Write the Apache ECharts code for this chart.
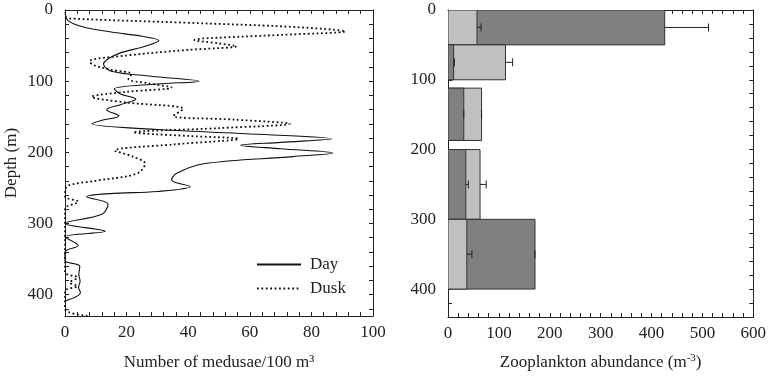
<!DOCTYPE html>
<html>
<head>
<meta charset="utf-8">
<script src="https://cdn.jsdelivr.net/npm/echarts@6/dist/echarts.min.js"></script>
<style>
  html, body { margin: 0; background: #fff; }
  #chart { width: 769px; height: 376px; }
</style>
</head>
<body>
<div id="chart"></div>
<script>
// medusae profiles, [number per 100 m3, depth (m)]
const dayProfile = [
  [0, 3], [1, 15], [6, 24], [15, 31], [25, 37], [30.5, 43], [26, 51], [17, 62], [12.5, 76],
  [15, 86], [28, 93], [43.5, 100], [30, 104], [16, 111], [18, 118], [23, 125], [18, 133],
  [13.5, 140], [17.5, 149], [12, 155], [8.7, 160], [30, 168], [65, 175], [86.6, 181],
  [70, 186], [57, 190], [70, 195], [87, 201], [74, 206], [45, 216], [36, 230], [34.6, 239],
  [40.6, 248], [30, 255], [14.6, 258], [7, 262.5], [14, 273], [12, 287], [0, 300], [13, 311],
  [0, 319], [4.3, 331], [0, 340], [0, 352], [4.8, 360], [4.5, 372], [4.9, 381], [4.4, 390],
  [5, 397], [0, 409]
];
const duskProfile = [
  [0, 10], [2, 12], [40, 18], [75, 24], [91, 30], [70, 35], [45, 40], [42, 42], [50, 47],
  [55.7, 51], [40, 56], [20, 64], [8, 72], [9, 77], [15, 84], [21.6, 90], [20.6, 97],
  [27, 103], [34.6, 109], [20, 115], [8.7, 122], [20, 130], [38.4, 139], [35.2, 148.7],
  [55, 154], [73, 160], [50, 166], [22.2, 172], [40, 177], [56.3, 181], [35, 189],
  [16.2, 197.5], [22, 206], [26, 216], [23.3, 230], [10, 240], [0.5, 248.5], [0, 262],
  [4.3, 269.5], [0, 280], [0, 368], [4, 376], [1.5, 383], [4, 388], [0, 395], [0, 420],
  [7.6, 430]
];

// zooplankton depth bins (m) and abundances (m-3)
const binTop = [0, 50, 112, 200, 300];
const binBottom = [50, 100, 187, 300, 400];
const darkBars = [426, 11, 31, 35, 171];
const darkErr = [86, 1.5, 0, 5, 0];
const lightBars = [57, 113, 66, 63, 37];
const lightErr = [8, 14, 0, 12, 10];

const FONT = 'Liberation Serif';
const INK = '#222';

const chart = echarts.init(document.getElementById('chart'), null, { renderer: 'canvas' });

function tickAxis(extra) {
  return Object.assign({
    type: 'value',
    axisLine: { show: true, onZero: false, lineStyle: { color: INK, width: 1 } },
    axisTick: { show: true, inside: true, length: 4, lineStyle: { color: INK } },
    splitLine: { show: false },
    axisLabel: { show: false }
  }, extra);
}

function renderBin(params, api) {
  const top = api.value(0), bottom = api.value(1);
  const bars = [
    { v: api.value(2), e: api.value(3), fill: '#808080' },
    { v: api.value(4), e: api.value(5), fill: '#c0c0c0' }
  ].sort((a, b) => b.v - a.v);
  const children = [];
  bars.forEach(b => {
    const p0 = api.coord([0, top]);
    const p1 = api.coord([b.v, bottom]);
    children.push({
      type: 'rect',
      shape: { x: p0[0], y: p0[1], width: p1[0] - p0[0], height: p1[1] - p0[1] },
      style: { fill: b.fill, stroke: '#333', lineWidth: 1 }
    });
  });
  const mid = (top + bottom) / 2;
  bars.forEach(b => {
    const a = api.coord([b.v, mid]);
    const c = api.coord([b.v + b.e, mid]);
    children.push({ type: 'line', shape: { x1: a[0], y1: a[1], x2: c[0], y2: c[1] },
      style: { stroke: '#222', lineWidth: 1 } });
    children.push({ type: 'line', shape: { x1: c[0], y1: c[1] - 4, x2: c[0], y2: c[1] + 4 },
      style: { stroke: '#222', lineWidth: 1 } });
  });
  return { type: 'group', children: children };
}

const binData = binTop.map((t, i) => [t, binBottom[i], darkBars[i], darkErr[i], lightBars[i], lightErr[i]]);

chart.setOption({
  animation: false,
  textStyle: { fontFamily: FONT, color: INK },
  grid: [
    { left: 65, right: 396, top: 10, bottom: 57.5 },
    { left: 448, right: 13, top: 10, bottom: 59 }
  ],
  legend: {
    orient: 'vertical',
    left: 251,
    top: 251,
    itemWidth: 44,
    itemHeight: 10,
    itemGap: 7,
    data: ['Day', 'Dusk'],
    itemStyle: { opacity: 0 },
    textStyle: { fontFamily: FONT, fontSize: 17, color: INK, padding: [0, 0, 0, 4] }
  },
  xAxis: [
    tickAxis({
      gridIndex: 0, position: 'bottom', min: 0, max: 100, interval: 4,
      axisLabel: { show: true, fontFamily: FONT, fontSize: 17, color: INK, margin: 8,
        formatter: v => (v % 20 === 0 ? String(v) : '') },
      name: 'Number of medusae/100 m³', nameLocation: 'middle', nameGap: 38,
      nameTextStyle: { fontFamily: FONT, fontSize: 17, color: INK }
    }),
    tickAxis({ gridIndex: 0, position: 'top', min: 0, max: 100, interval: 4 }),
    tickAxis({
      gridIndex: 1, position: 'bottom', min: 0, max: 600, interval: 20,
      axisLabel: { show: true, fontFamily: FONT, fontSize: 17, color: INK, margin: 8,
        formatter: v => (v % 100 === 0 ? String(v) : '') },
      name: 'Zooplankton abundance (m{sup|-3})', nameLocation: 'middle', nameGap: 36,
      nameTextStyle: { fontFamily: FONT, fontSize: 17, color: INK,
        rich: { sup: { fontFamily: FONT, fontSize: 11, color: INK, verticalAlign: 'top', padding: [0, 0, 8, 0] } } }
    }),
    tickAxis({ gridIndex: 1, position: 'top', min: 0, max: 600, interval: 20 })
  ],
  yAxis: [
    tickAxis({
      gridIndex: 0, position: 'left', inverse: true, min: 0, max: 430, interval: 20,
      axisLabel: { show: true, fontFamily: FONT, fontSize: 17, color: INK, margin: 12,
        formatter: v => (v % 100 === 0 ? String(v) : '') },
      name: 'Depth (m)', nameLocation: 'middle', nameGap: 45, nameRotate: 90,
      nameTextStyle: { fontFamily: FONT, fontSize: 17, color: INK }
    }),
    tickAxis({ gridIndex: 0, position: 'right', inverse: true, min: 0, max: 430, interval: 20 }),
    tickAxis({
      gridIndex: 1, position: 'left', inverse: true, min: 0, max: 440, interval: 20,
      axisLabel: { show: true, fontFamily: FONT, fontSize: 17, color: INK, margin: 12,
        formatter: v => (v % 100 === 0 ? String(v) : '') }
    }),
    tickAxis({ gridIndex: 1, position: 'right', inverse: true, min: 0, max: 440, interval: 20 })
  ],
  series: [
    {
      name: 'Day', type: 'line', xAxisIndex: 0, yAxisIndex: 0,
      data: dayProfile, smooth: 0.35, symbol: 'none', clip: true,
      lineStyle: { color: '#111', width: 1.1, type: 'solid' },
      itemStyle: { color: '#111' }
    },
    {
      name: 'Dusk', type: 'line', xAxisIndex: 0, yAxisIndex: 0,
      data: duskProfile, smooth: 0.35, symbol: 'none', clip: true,
      lineStyle: { color: '#111', width: 1.8, type: [1.8, 2.6] },
      itemStyle: { color: '#111' }
    },
    {
      type: 'custom', xAxisIndex: 2, yAxisIndex: 2,
      renderItem: renderBin,
      encode: { x: [2, 4], y: [0, 1] },
      data: binData,
      clip: true
    }
  ]
});
</script>
</body>
</html>
